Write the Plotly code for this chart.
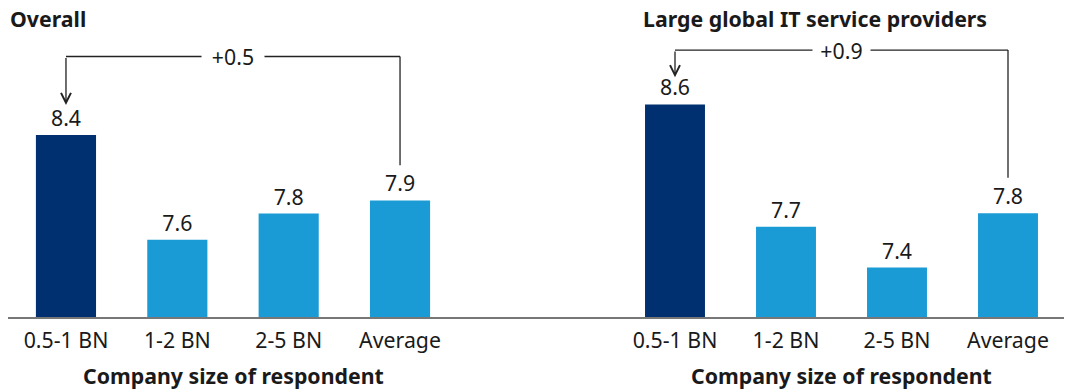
import plotly.graph_objects as go

categories = ["0.5-1 BN", "1-2 BN", "2-5 BN", "Average"]
overall_values = [8.4, 7.6, 7.8, 7.9]
large_values = [8.6, 7.7, 7.4, 7.8]
overall_title = "Overall"
large_title = "Large global IT service providers"
axis_title = "Company size of respondent"
overall_delta = "+0.5"
large_delta = "+0.9"

DARK = "#00306f"
LIGHT = "#1a9bd6"
TXT = "#1a1a1a"
LINE = "#222222"
FONT = "Noto Sans"
FS = 21.3

W, H = 1065, 389
colors = [DARK, LIGHT, LIGHT, LIGHT]

fig = go.Figure()
fig.add_trace(go.Bar(x=categories, y=overall_values, marker_color=colors, marker_line_width=0,
                     text=[f"{v:.1f}" for v in overall_values], textposition="outside",
                     textfont=dict(size=FS, color=TXT, family=FONT), cliponaxis=False,
                     xaxis="x", yaxis="y", showlegend=False, hoverinfo="skip"))
fig.add_trace(go.Bar(x=categories, y=large_values, marker_color=colors, marker_line_width=0,
                     text=[f"{v:.1f}" for v in large_values], textposition="outside",
                     textfont=dict(size=FS, color=TXT, family=FONT), cliponaxis=False,
                     xaxis="x2", yaxis="y2", showlegend=False, hoverinfo="skip"))

ybot = 1 - 317.5 / H
ytop = 1 - 30 / H
ax_common = dict(type="category", range=[-0.5, 3.5], showline=False, ticks="", showgrid=False,
                 zeroline=False, ticklabelstandoff=8,
                 tickfont=dict(size=FS, color=TXT, family=FONT))
fig.update_layout(
    width=W, height=H, margin=dict(l=0, r=0, t=0, b=0),
    paper_bgcolor="white", plot_bgcolor="white", bargap=0.46,
    font=dict(family=FONT, color=TXT),
    xaxis=dict(domain=[10.3 / W, 455.7 / W], anchor="y", **ax_common),
    xaxis2=dict(domain=[619.5 / W, 1063.5 / W], anchor="y2", **ax_common),
    yaxis=dict(domain=[ybot, ytop], range=[7.006, 7.006 + 287.5 / 130.9], visible=False),
    yaxis2=dict(domain=[ybot, ytop], range=[7.0325, 7.0325 + 287.5 / 135.9], visible=False),
)

# baseline across both panels
fig.add_shape(type="line", xref="paper", yref="paper", x0=8 / W, x1=1064 / W, y0=1 - 318 / H, y1=1 - 318 / H,
              line=dict(color="#777777", width=2), layer="above")

# brackets
def bracket(xr, yr, vals, delta, tip_off, end_off, gap):
    top = 9.0
    fig.add_shape(type="line", xref=xr, yref=yr, x0=0, x1=3, y0=top, y1=top, line=dict(color=LINE, width=1.3))
    fig.add_shape(type="line", xref=xr, yref=yr, x0=3, x1=3, y0=top, y1=vals[3] + end_off, line=dict(color=LINE, width=1.3))
    fig.add_annotation(xref=xr, yref=yr, x=0, y=vals[0] + tip_off, axref=xr, ayref=yr, ax=0, ay=top,
                       showarrow=True, arrowhead=5, arrowsize=1.5, arrowwidth=1.3, arrowcolor=LINE, text="")
    fig.add_annotation(xref=xr, yref=yr, x=1.5, y=top, text=delta, showarrow=False, bgcolor="white",
                       borderpad=2, font=dict(size=FS, color=TXT, family=FONT), xanchor="center", yanchor="middle",
                       width=gap)

bracket("x", "y", overall_values, overall_delta, 0.23, 0.27, 58)
bracket("x2", "y2", large_values, large_delta, 0.2, 0.26, 53)

# titles
fig.add_annotation(xref="paper", yref="paper", x=8 / W, y=1 - 18 / H, text=f"<b>{overall_title}</b>",
                   showarrow=False, xanchor="left", yanchor="middle", font=dict(size=FS, color=TXT, family=FONT))
fig.add_annotation(xref="paper", yref="paper", x=641 / W, y=1 - 18 / H, text=f"<b>{large_title}</b>",
                   showarrow=False, xanchor="left", yanchor="middle", font=dict(size=FS, color=TXT, family=FONT))
for xr in ["x domain", "x2 domain"]:
    fig.add_annotation(xref=xr, yref="paper", x=0.5, y=1 - 375 / H, text=f"<b>{axis_title}</b>",
                       showarrow=False, xanchor="center", yanchor="middle", font=dict(size=FS, color=TXT, family=FONT))

fig.write_html("out.html")
